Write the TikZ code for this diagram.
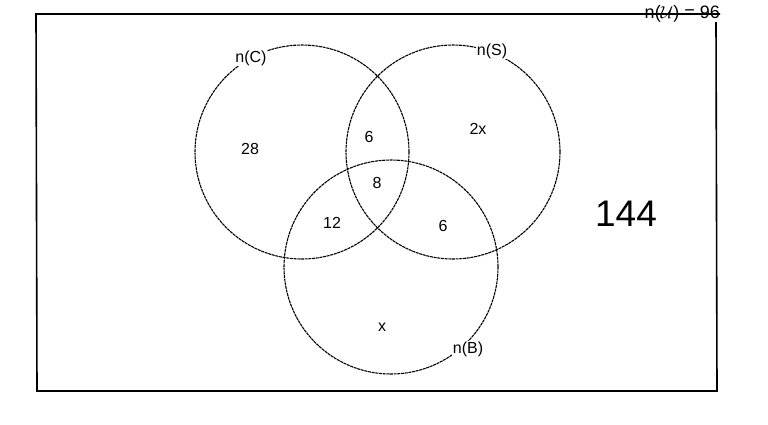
\documentclass[tikz,border=0pt]{standalone}
\usepackage{fontspec}
\setmainfont{Liberation Sans}
\begin{document}
\begin{tikzpicture}[x=1pt,y=-1pt,
  setcircle/.style={draw=black,line width=1.1pt,dash pattern=on 3pt off 0.7pt,circle,minimum size=214pt,inner sep=0pt},
  small/.style={font=\fontsize{16}{18}\selectfont,inner sep=0pt,text=black},
  frame/.style={draw=black,line width=1.6pt}]
\useasboundingbox (0,0) rectangle (768,424);
\fill[white] (0,0) rectangle (768,424);
% universal set
\node[font=\fontsize{18}{20}\selectfont,inner sep=0pt,anchor=east] (U) at (720,14) {n($\mathcal{U}$) = 96};
\coordinate (tr) at (716,22);
\coordinate (br) at (717,391);
\coordinate (bl) at (37,391);
\coordinate (tl) at (36,14);
\draw[frame] (tr) -- (br) -- (bl) -- (tl) -- (U.east|-tl);
% sets
\node[setcircle] (C) at (302,152) {};
\node[setcircle] (S) at (453,152) {};
\node[setcircle] (B) at (391,267) {};
% set labels
\node[small,fill=white,inner sep=0.5pt] (nC) at (251,58) {n(C)};
\node[small,fill=white,inner sep=0.5pt] (nS) at (492,51) {n(S)};
\node[small,fill=white,inner sep=0.5pt] (nB) at (468,349) {n(B)};
% region values
\node[small] (v28) at (250,149) {28};
\node[small] (v6a) at (369,137) {6};
\node[small] (v2x) at (478,129) {2x};
\node[small] (v8) at (377,183) {8};
\node[small] (v12) at (332,223) {12};
\node[small] (v6b) at (443,226) {6};
\node[small] (vx) at (382,327) {x};
\node[font=\fontsize{37}{40}\selectfont,inner sep=0pt,text=black] (v144) at (626,214) {144};
\end{tikzpicture}
\end{document}
